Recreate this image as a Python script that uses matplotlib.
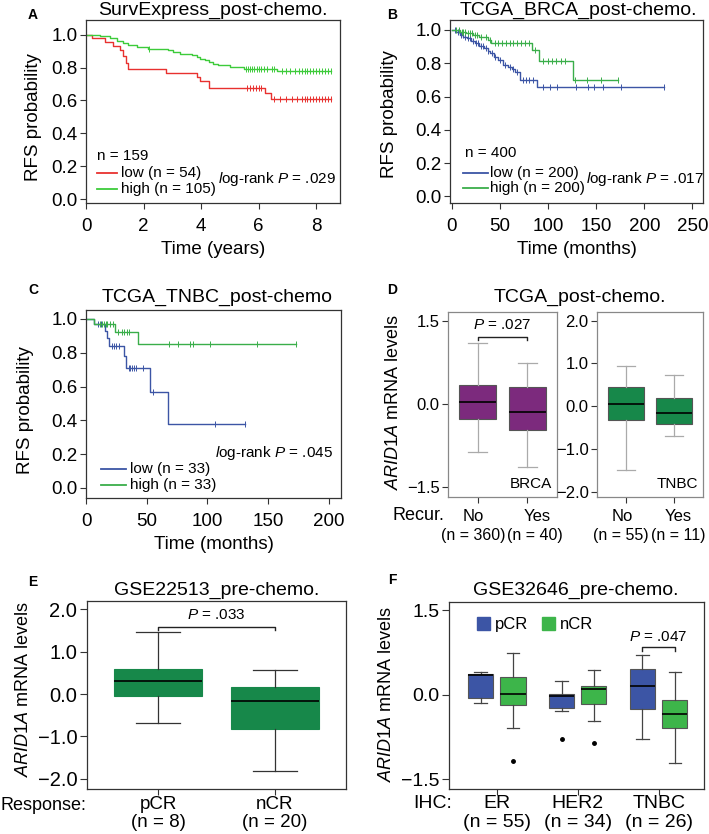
import numpy as np
import matplotlib.pyplot as plt
from matplotlib.lines import Line2D
from matplotlib.patches import Patch

plt.rcParams['font.family'] = ['Liberation Sans', 'DejaVu Sans']
plt.rcParams['mathtext.fontset'] = 'custom'
plt.rcParams['mathtext.rm'] = 'Liberation Sans'
plt.rcParams['mathtext.it'] = 'Liberation Sans:italic'

# ---- data: Kaplan-Meier curves (step times, survival after step, censor times)
a_low_t = [0, 0.2, 0.66, 0.95, 1.18, 1.3, 1.4, 1.46, 2.77, 3.85, 3.97, 4.26, 6.23, 6.42, 8.52]
a_low_s = [1.0, 0.98, 0.955, 0.933, 0.91, 0.87, 0.83, 0.79, 0.77, 0.745, 0.72, 0.675, 0.648, 0.61, 0.61]
a_low_c = [5.6, 5.7, 5.8, 5.9, 6.0, 6.1, 6.55, 6.75, 6.95, 7.15, 7.35, 7.5, 7.6, 7.7, 7.8,
           7.9, 8.0, 8.1, 8.2, 8.3, 8.4, 8.52]
a_high_t = [0, 0.5, 0.85, 1.07, 1.3, 1.47, 1.76, 2.17, 2.86, 3.04, 3.27, 3.68, 3.85, 3.97,
            4.14, 4.26, 4.43, 4.6, 5.0, 5.5, 6.63, 8.52]
a_high_s = [1.0, 0.99, 0.98, 0.965, 0.95, 0.935, 0.925, 0.915, 0.905, 0.895, 0.885, 0.875,
            0.865, 0.855, 0.845, 0.835, 0.825, 0.815, 0.805, 0.79, 0.78, 0.78]
a_high_c = [2.2, 5.55, 5.62, 5.7, 5.78, 5.85, 5.93, 6.0, 6.1, 6.2, 6.3, 6.45, 6.55, 6.8, 6.95,
            7.1, 7.25, 7.4, 7.5, 7.6, 7.7, 7.8, 7.9, 8.0, 8.1, 8.2, 8.3, 8.4, 8.52]

b_low_t = [0, 4, 8, 12, 16, 20, 24, 28, 33, 37, 40, 44, 48, 53, 58, 62, 66, 71, 88, 220]
b_low_s = [1.0, 0.985, 0.97, 0.96, 0.95, 0.935, 0.92, 0.905, 0.89, 0.875, 0.86, 0.84, 0.82,
           0.79, 0.775, 0.765, 0.745, 0.70, 0.655, 0.655]
b_low_c = [3, 6, 9, 11, 14, 17, 19, 22, 25, 27, 30, 32, 35, 38, 42, 45, 50, 55, 60, 64, 68,
           74, 77, 80, 84, 95, 102, 109, 129, 141, 148, 157, 176, 220]
b_high_t = [0, 8, 15, 22, 28, 33, 38, 41, 83, 90, 126, 173]
b_high_s = [1.0, 0.99, 0.98, 0.97, 0.96, 0.955, 0.94, 0.92, 0.88, 0.815, 0.70, 0.70]
b_high_c = [4, 7, 10, 12, 14, 17, 19, 21, 24, 26, 30, 35, 40, 45, 48, 52, 56, 60, 64, 68,
            72, 76, 80, 86, 95, 100, 104, 108, 113, 118, 128, 140, 155, 173]

c_low_t = [0, 6.9, 15.9, 17.6, 19.2, 31.6, 33, 52.7, 67.9, 131]
c_low_s = [1.0, 0.97, 0.93, 0.89, 0.84, 0.78, 0.71, 0.57, 0.38, 0.38]
c_low_c = [10, 12, 21, 23, 25, 27, 35, 36.5, 38, 39.5, 41, 47, 55, 106, 131]
c_high_t = [0, 6.9, 24, 42.6, 173]
c_high_s = [1.0, 0.97, 0.925, 0.85, 0.85]
c_high_c = [11.5, 13, 14.5, 16.5, 17.5, 20, 22.5, 26.5, 29.5, 31.5, 33.5, 35.5, 68.4, 76,
            85.7, 88, 102, 140.7, 173]

# ---- data: box statistics [whislo, q1, med, q3, whishi]
d_brca = {'No': [-0.87, -0.27, 0.04, 0.34, 1.10], 'Yes': [-1.14, -0.47, -0.15, 0.31, 0.74]}
d_tnbc = {'No': [-1.49, -0.33, 0.05, 0.44, 0.93], 'Yes': [-0.70, -0.42, -0.16, 0.20, 0.72]}
d_groups = ['No', 'Yes']
d_brca_n = ['(n = 360)', '(n = 40)']
d_tnbc_n = ['(n = 55)', '(n = 11)']

e_groups = ['pCR', 'nCR']
e_n = ['(n = 8)', '(n = 20)']
e_stats = [[-0.67, -0.04, 0.30, 0.60, 1.46], [-1.81, -0.82, -0.15, 0.17, 0.58]]

f_groups = ['ER', 'HER2', 'TNBC']
f_n = ['(n = 55)', '(n = 34)', '(n = 26)']
f_pcr = [[-0.15, -0.05, 0.36, 0.37, 0.41], [-0.28, -0.24, -0.01, 0.02, 0.24],
         [-0.79, -0.25, 0.16, 0.46, 0.71]]
f_ncr = [[-0.58, -0.18, 0.02, 0.31, 0.74], [-0.46, -0.16, 0.11, 0.15, 0.44],
         [-1.21, -0.58, -0.33, -0.09, 0.40]]
f_pcr_out = [[], [-0.78], []]
f_ncr_out = [[-1.17], [-0.86], []]

RED = '#E8312F'
GREEN_A = '#3DCB3A'
GREEN = '#3AAE4A'
BLUE = '#3C55A5'
PURPLE = '#7C2A7D'
DKGREEN = '#17884A'
F_GREEN = '#3DB54A'

W, H = 709, 834
fig = plt.figure(figsize=(W / 100, H / 100), dpi=100)


def box(l, t, r, b):
    return fig.add_axes([l / W, 1 - b / H, (r - l) / W, (b - t) / H])


def ftext(x, y, s, **kw):
    kw.setdefault('ha', 'center')
    kw.setdefault('va', 'center')
    fig.text(x / W, 1 - y / H, s, **kw)


def fline(x1, x2, y, color):
    fig.add_artist(Line2D([x1 / W, x2 / W], [1 - y / H] * 2, color=color, lw=1.3))


def style(ax, size=13, color='#333333'):
    for sp in ax.spines.values():
        sp.set_color(color)
        sp.set_linewidth(0.9)
    ax.tick_params(direction='out', length=4, width=0.8, color='#333333',
                   labelsize=size, pad=2)


def km(ax, t, s, cens, color):
    t = np.array(t)
    s = np.array(s)
    ax.step(t, s, where='post', color=color, lw=1)
    idx = np.searchsorted(t, cens, side='right') - 1
    ax.plot(cens, s[idx], ls='none', marker='|', ms=4, mew=0.7, color=color)


def st(v, fl=()):
    return dict(whislo=v[0], q1=v[1], med=v[2], q3=v[3], whishi=v[4], fliers=list(fl))


def draw_box(ax, stats, pos, width, face, edge, whis):
    ax.bxp(stats, positions=pos, widths=width, patch_artist=True, manage_ticks=False,
           boxprops=dict(facecolor=face, edgecolor=edge, lw=0.8),
           medianprops=dict(color='black', lw=1.2),
           whiskerprops=dict(color=whis, lw=0.9),
           capprops=dict(color=whis, lw=0.9),
           flierprops=dict(marker='o', ms=2.5, mfc='black', mec='black'))


def xlab(ax, x, y, s, size):
    ax.text(x, y, s, transform=ax.get_xaxis_transform(), ha='center', va='center',
            fontsize=size)


yfmt = lambda vals: [('%.1f' % v).replace('-', '\u2212') for v in vals]


def km_axes(ax, xlim, ylim, xticks, xlabel, ylab_xy):
    ax.set_xlim(*xlim)
    ax.set_ylim(*ylim)
    ax.set_xticks(xticks)
    ax.set_yticks(np.arange(0, 1.01, 0.2))
    ax.set_yticklabels(yfmt(np.arange(0, 1.01, 0.2)))
    ax.tick_params(axis='x', pad=7)
    ax.set_xlabel(xlabel, fontsize=13.5, labelpad=4)
    ax.set_ylabel('RFS probability', fontsize=13.5)
    ax.yaxis.set_label_coords(*ylab_xy)


# ---------------- A
ax = box(86, 20, 340, 203)
style(ax, 13.5)
km(ax, a_low_t, a_low_s, a_low_c, RED)
km(ax, a_high_t, a_high_s, a_high_c, GREEN_A)
km_axes(ax, (0, 8.83), (-0.024, 1.09), [0, 2, 4, 6, 8], 'Time (years)', (-0.173, 0.47))
ftext(213, 10, 'SurvExpress_post-chemo.', fontsize=14)
ftext(33, 15, 'A', fontsize=10, fontweight='bold')
ftext(97, 156, 'n = 159', fontsize=11, ha='left')
fline(97, 117, 173, RED)
fline(97, 117, 189, GREEN_A)
ftext(121, 173, 'low (n = 54)', fontsize=11, ha='left')
ftext(121, 189, 'high (n = 105)', fontsize=11, ha='left')
ftext(336, 179, r'$\it{l}$og-rank $\it{P}$ = .029', fontsize=11, ha='right')

# ---------------- B
ax = box(450, 20, 703, 203)
style(ax, 13.5)
km(ax, b_low_t, b_low_s, b_low_c, BLUE)
km(ax, b_high_t, b_high_s, b_high_c, GREEN)
km_axes(ax, (-2, 261), (-0.04, 1.06), [0, 50, 100, 150, 200, 250], 'Time (months)',
        (-0.206, 0.486))
ftext(578, 10, 'TCGA_BRCA_post-chemo.', fontsize=14)
ftext(392, 15, 'B', fontsize=10, fontweight='bold')
ftext(465, 153, 'n = 400', fontsize=11, ha='left')
fline(463, 488, 173, BLUE)
fline(463, 488, 188, GREEN)
ftext(490, 173, 'low (n = 200)', fontsize=11, ha='left')
ftext(490, 188, 'high (n = 200)', fontsize=11, ha='left')
ftext(704, 179, r'$\it{l}$og-rank $\it{P}$ = .017', fontsize=11, ha='right')

# ---------------- C
ax = box(86, 310, 341, 498)
style(ax, 13.5)
km(ax, c_low_t, c_low_s, c_low_c, BLUE)
km(ax, c_high_t, c_high_s, c_high_c, GREEN)
km_axes(ax, (0, 210), (-0.06, 1.053), [0, 50, 100, 150, 200], 'Time (months)',
        (-0.204, 0.47))
ftext(217, 297, 'TCGA_TNBC_post-chemo', fontsize=14)
ftext(33, 290, 'C', fontsize=10, fontweight='bold')
fline(101, 126, 469, BLUE)
fline(101, 126, 485, GREEN)
ftext(130, 469, 'low (n = 33)', fontsize=11, ha='left')
ftext(130, 485, 'high (n = 33)', fontsize=11, ha='left')
ftext(333, 453, r'$\it{l}$og-rank $\it{P}$ = .045', fontsize=11, ha='right')

# ---------------- D
ftext(580, 297, 'TCGA_post-chemo.', fontsize=14)
ftext(392, 290, 'D', fontsize=10, fontweight='bold')
for (l, r), data, ns, face, lim, ticks, tag, lab_x in [
        ((448, 557), d_brca, d_brca_n, PURPLE, (-1.68, 1.66), [-1.5, 0, 1.5], 'BRCA',
         [(0.92, 0.9), (2.2, 2.16)]),
        ((597, 703), d_tnbc, d_tnbc_n, DKGREEN, (-2.12, 2.2), [-2, -1, 0, 1, 2], 'TNBC',
         [(0.92, 0.9), (2.08, 2.08)])]:
    ax = box(l, 312, r, 497)
    style(ax, size=12, color='#888888')
    draw_box(ax, [st(data[g]) for g in d_groups], [1, 2], 0.75, face, '#555555', '#aaaaaa')
    ax.set_xlim(0.4, 2.6)
    ax.set_ylim(*lim)
    ax.set_yticks(ticks)
    ax.set_yticklabels(yfmt(ticks))
    ax.set_xticks([1, 2])
    ax.set_xticklabels([])
    for g, n, (xg, xn) in zip(d_groups, ns, lab_x):
        xlab(ax, xg, -0.103, g, 12)
        xlab(ax, xn, -0.21, n, 11.5)
    ax.text(0.95, 0.03, tag, transform=ax.transAxes, ha='right', va='bottom', fontsize=11)
    if tag == 'BRCA':
        ax.plot([1, 1, 2, 2], [1.16, 1.21, 1.21, 1.16], color='#222222', lw=1)
        ax.text(1.5, 1.43, r'$\it{P}$ = .027', ha='center', va='center', fontsize=11)
ftext(418, 516, 'Recur.', fontsize=13)
ftext(394, 402, r'$\it{ARID1A}$ mRNA levels', fontsize=13, rotation=90)

# ---------------- E
ax = box(87, 601, 346, 789)
style(ax, size=14.5)
ax.tick_params(axis='y', length=5, pad=2)
draw_box(ax, [st(v) for v in e_stats], [1, 2], 0.75, DKGREEN, DKGREEN, '#333333')
ax.set_xlim(0.39, 2.61)
ax.set_ylim(-2.24, 2.2)
ax.set_yticks([-2, -1, 0, 1, 2])
ax.set_yticklabels(yfmt([-2, -1, 0, 1, 2]))
ax.set_xticks([1, 2])
ax.set_xticklabels([])
for i, (g, n) in enumerate(zip(e_groups, e_n)):
    xlab(ax, i + 1, -0.085, g, 13.5)
    xlab(ax, i + 1, -0.18, n, 13.5)
ax.plot([1, 1, 2, 2], [1.52, 1.59, 1.59, 1.52], color='#222222', lw=1)
ax.text(1.5, 1.87, r'$\it{P}$ = .033', ha='center', va='center', fontsize=11)
ftext(217, 590, 'GSE22513_pre-chemo.', fontsize=14)
ftext(33, 582, 'E', fontsize=10, fontweight='bold')
ftext(0, 805, 'Response:', fontsize=13, ha='left')
ftext(24, 689, r'$\it{ARID1A}$ mRNA levels', fontsize=13, rotation=90)

# ---------------- F
ax = box(449, 602, 704, 789)
style(ax, size=14)
ax.tick_params(axis='y', length=5, pad=2)
pos = np.arange(1, len(f_groups) + 1)
draw_box(ax, [st(v, o) for v, o in zip(f_pcr, f_pcr_out)], pos - 0.2, 0.31, BLUE,
         '#555555', '#444444')
draw_box(ax, [st(v, o) for v, o in zip(f_ncr, f_ncr_out)], pos + 0.2, 0.31, F_GREEN,
         '#555555', '#444444')
ax.set_xlim(0.41, 3.56)
ax.set_ylim(-1.67, 1.65)
ax.set_yticks([-1.5, 0, 1.5])
ax.set_yticklabels(yfmt([-1.5, 0, 1.5]))
ax.set_xticks(pos)
ax.set_xticklabels([])
for i, (g, n) in enumerate(zip(f_groups, f_n)):
    xlab(ax, pos[i], -0.075, g, 14)
    xlab(ax, pos[i], -0.18, n, 14)
ax.plot([2.8, 2.8, 3.2, 3.2], [0.78, 0.85, 0.85, 0.78], color='#222222', lw=1)
ax.text(3.0, 1.03, r'$\it{P}$ = .047', ha='center', va='center', fontsize=11)
ax.legend(handles=[Patch(color=BLUE, label='pCR'), Patch(color=F_GREEN, label='nCR')],
          loc='upper left', bbox_to_anchor=(0.05, 1.0), ncol=2, frameon=False,
          handlelength=0.8, handleheight=0.8, handletextpad=0.3, columnspacing=0.8,
          fontsize=12)
ftext(576, 590, 'GSE32646_pre-chemo.', fontsize=14)
ftext(392, 580, 'F', fontsize=10, fontweight='bold')
ftext(433, 803, 'IHC:', fontsize=14)
ftext(386, 694, r'$\it{ARID1A}$ mRNA levels', fontsize=13, rotation=90)

fig.savefig('out.png', dpi=100)
